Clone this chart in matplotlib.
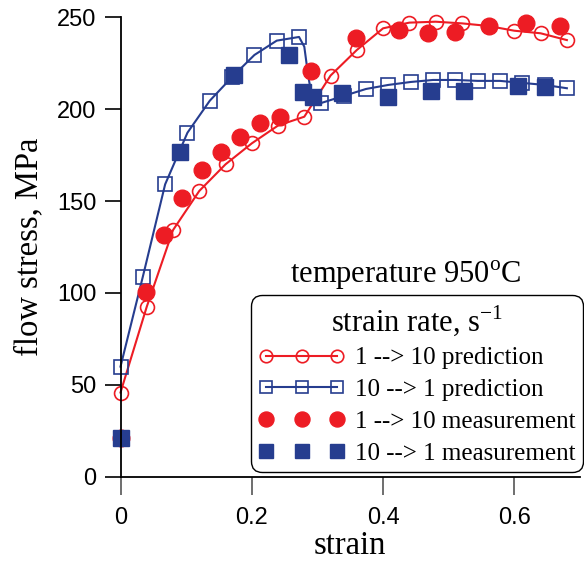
import matplotlib
matplotlib.use("Agg")
import matplotlib.pyplot as plt

# Curvas previstas (linha + marcador vazio)
deform_prev_1_10 = [0.00, 0.04, 0.08, 0.12, 0.16, 0.20, 0.24, 0.28, 0.32,
                    0.36, 0.40, 0.44, 0.48, 0.52, 0.56, 0.60, 0.64, 0.68]
tensao_prev_1_10 = [45.8, 92.5, 134.2, 155.5, 170.0, 181.4, 191.1, 195.9, 218.3,
                    232.2, 244.0, 247.1, 247.6, 246.7, 245.3, 242.7, 241.3, 237.6]

deform_prev_10_1 = [0.000, 0.034, 0.068, 0.102, 0.136, 0.170, 0.204, 0.238, 0.272,
                    0.280, 0.286, 0.292,
                    0.306, 0.340, 0.374, 0.408, 0.442, 0.476, 0.510, 0.544,
                    0.578, 0.612, 0.646, 0.680]
tensao_prev_10_1 = [59.9, 108.8, 159.1, 187.2, 204.6, 217.5, 229.5, 237.3, 239.3,
                    234.0, 218.0, 206.0,
                    203.4, 207.2, 211.0, 213.2, 214.8, 215.9, 215.9, 215.4,
                    215.4, 214.3, 213.2, 211.4]
# pontos 9-11 só descrevem a queda da curva, sem marcador
marcas_10_1 = [i for i in range(len(deform_prev_10_1)) if i not in (9, 10, 11)]

# Medições (só marcadores cheios)
deform_med_1_10 = [0.000, 0.039, 0.067, 0.094, 0.124, 0.153, 0.182, 0.212, 0.243,
                   0.290, 0.358, 0.425, 0.469, 0.510, 0.561, 0.618, 0.670]
tensao_med_1_10 = [21.1, 100.7, 131.5, 151.7, 166.9, 176.9, 185.0, 192.3, 195.9,
                   221.0, 238.6, 243.1, 241.6, 242.2, 245.3, 246.7, 245.3]

deform_med_10_1 = [0.000, 0.090, 0.173, 0.257, 0.278, 0.293, 0.337, 0.408,
                   0.473, 0.524, 0.605, 0.646]
tensao_med_10_1 = [21.2, 176.9, 218.6, 229.5, 209.3, 206.8, 208.6, 206.8,
                   210.1, 210.1, 212.6, 211.9]

ticks_x = [0, 0.2, 0.4, 0.6]
rotulos_x = ["0", "0.2", "0.4", "0.6"]
ticks_y = [0, 50, 100, 150, 200, 250]

VERMELHO = "#ED1C24"
AZUL = "#263D8F"

plt.rcParams["font.family"] = "Liberation Serif"
plt.rcParams["mathtext.fontset"] = "custom"
plt.rcParams["mathtext.rm"] = "Liberation Serif"


def grafico_tensao():
    fig = plt.figure(figsize=(5.84, 5.62), dpi=100)
    ax = fig.add_axes([120.5 / 584, 1 - 476.7 / 562, 459.5 / 584, 459.4 / 562])

    ax.plot(deform_prev_1_10, tensao_prev_1_10, color=VERMELHO, lw=1.5,
            marker="o", ms=10, mfc="none", mec=VERMELHO, mew=1.2,
            label="1 --> 10 prediction", clip_on=False)
    ax.plot(deform_prev_10_1, tensao_prev_10_1, color=AZUL, lw=1.5,
            marker="s", ms=9.5, mfc="none", mec=AZUL, mew=1.2,
            markevery=marcas_10_1, label="10 --> 1 prediction", clip_on=False)
    ax.plot(deform_med_1_10, tensao_med_1_10, ls="none", marker="o", ms=12,
            color=VERMELHO, mec=VERMELHO, label="1 --> 10 measurement", clip_on=False)
    ax.plot(deform_med_10_1, tensao_med_10_1, ls="none", marker="s", ms=11,
            color=AZUL, mec=AZUL, label="10 --> 1 measurement", clip_on=False)

    ax.set_xlim(0, 0.70)
    ax.set_ylim(0, 250)
    ax.set_xticks(ticks_x)
    ax.set_xticklabels(rotulos_x)
    ax.set_yticks(ticks_y)
    for rot in ax.get_xticklabels() + ax.get_yticklabels():
        rot.set_fontfamily("Liberation Sans")
        rot.set_fontsize(17)

    ax.spines["top"].set_visible(False)
    ax.spines["right"].set_visible(False)
    for lado in ("left", "bottom"):
        ax.spines[lado].set_linewidth(1.3)
        ax.spines[lado].set_color("black")
    ax.tick_params(axis="y", direction="out", length=11.5, width=1.2,
                   color="black", pad=6)
    ax.tick_params(axis="x", direction="out", length=13, width=1.2,
                   color="#555555", pad=9)

    ax.set_xlabel("strain", fontsize=23.5, labelpad=1)
    ax.set_ylabel("flow stress, MPa", fontsize=23.5, labelpad=9)

    ax.text(0.621, 0.4216, "temperature 950$^{\\mathrm{o}}$C", transform=ax.transAxes,
            ha="center", va="baseline", fontsize=22)

    leg = ax.legend(loc="lower right", bbox_to_anchor=(583 / 584, 1 - 472 / 562),
                    bbox_transform=fig.transFigure, borderaxespad=0,
                    title="strain rate, s$^{\\mathrm{-1}}$", title_fontsize=22,
                    fontsize=18, numpoints=3, handlelength=3.44,
                    handletextpad=0.42, labelspacing=0.37, borderpad=0.3,
                    markerscale=0.9, fancybox=True, framealpha=1,
                    edgecolor="black")
    leg.get_frame().set_linewidth(1.0)
    leg.get_frame().set_boxstyle("round", pad=0, rounding_size=0.45)

    fig.savefig("out.png", dpi=100)
    plt.close(fig)


grafico_tensao()
